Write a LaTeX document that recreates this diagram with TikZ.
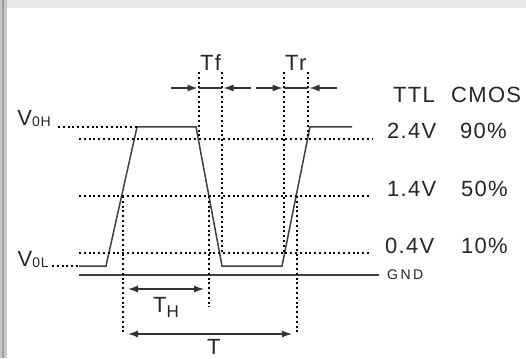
\documentclass[tikz,border=0pt]{standalone}
\usepackage{fontspec}
\setmainfont[LetterSpace=6]{Liberation Sans}
\newfontfamily\gndfont[LetterSpace=18]{Liberation Sans}
\usetikzlibrary{arrows.meta}

\begin{document}
\begin{tikzpicture}[x=1pt,y=-1pt,>={Latex[length=10pt,width=7pt]}]
		\tikzstyle{wave} = [line width=1.5pt, draw=black!75]
		\tikzstyle{guide} = [dash pattern=on 2pt off 2.8pt, line width=1.1pt, draw=black]
		\tikzstyle{dim} = [line width=1.3pt, draw=black!80]
		\tikzstyle{lbl} = [font=\fontsize{22}{24}\selectfont, text=black!85, inner sep=0pt, anchor=base west]
		\tikzstyle{small} = [font=\gndfont\fontsize{14}{15}\selectfont, text=black!85, inner sep=0pt, anchor=west]
		\useasboundingbox (0,0) rectangle (526,358);
		% window edges
		\fill[black!9] (7,0) rectangle (526,8.5);
		\fill[black!22] (0,0) rectangle (6.5,358);
		\draw[black!38, line width=1.3pt] (3,0) -- (3,358);
		% waveform
		\coordinate (w0) at (79,266);
		\coordinate (w1) at (106,266);
		\coordinate (w2) at (137,127);
		\coordinate (w3) at (196,127);
		\coordinate (w4) at (222,266);
		\coordinate (w5) at (282,266);
		\coordinate (w6) at (310,127);
		\coordinate (w7) at (352,127);
		\draw[wave] (w0) -- (w1) -- (w2) -- (w3) -- (w4) -- (w5) -- (w6) -- (w7);
		% levels
		\node[lbl, anchor=base east] (voh) at (51,126) {V\raisebox{-1pt}{\fontsize{14}{15}\selectfont 0H}};
		\node[lbl, anchor=base east] (vol) at (49,266) {V\raisebox{-1pt}{\fontsize{14}{15}\selectfont 0L}};
		\draw[guide] ([xshift=7pt,yshift=-1pt]voh.base east) -- (w2);
		\draw[guide] ([xshift=3pt]vol.base east) -- (w0);
		\node[lbl] (ttl) at (393,103) {TTL};
		\node[lbl] (cmos) at (451,103) {CMOS};
		\node[lbl] (v90) at (387,139) {2.4V};
		\node[lbl, anchor=base east] (p90) at (507,139) {90\%};
		\node[lbl] (v50) at (387,196) {1.4V};
		\node[lbl, anchor=base east] (p50) at (508,196) {50\%};
		\node[lbl] (v10) at (385,253) {0.4V};
		\node[lbl, anchor=base east] (p10) at (508,253) {10\%};
		\node[small] (gnd) at (387,274.5) {GND};
		\coordinate (g90) at (79,139);
		\coordinate (g50) at (79,196);
		\coordinate (g10) at (79,253);
		\coordinate (gg) at (79,275);
		\draw[guide] (g90) -- ([xshift=-14pt]v90.base west);
		\draw[guide] (g50) -- ([xshift=-16pt]v50.base west);
		\draw[guide] (g10) -- ([xshift=-14pt]v10.base west);
		\draw[wave] (gg) -- ([xshift=-8pt]gnd.west |- gg);
		% rise and fall times
		\coordinate (fa) at (199,88);
		\coordinate (fb) at (222,88);
		\coordinate (ra) at (284,88);
		\coordinate (rb) at (308,88);
		\draw[guide] (199,72) -- (199,139);
		\draw[guide] (222,72) -- (222,253);
		\draw[guide] (284,72) -- (284,253);
		\draw[guide] (308,72) -- (308,139);
		\draw[dim,->,shorten >=1.5pt] ([xshift=-28pt]fa) -- (fa);
		\draw[dim] (fa) -- (fb);
		\draw[dim,->,shorten >=1.5pt] ([xshift=29pt]fb) -- (fb);
		\draw[dim,->,shorten >=1.5pt] ([xshift=-28pt]ra) -- (ra);
		\draw[dim] (ra) -- (rb);
		\draw[dim,->,shorten >=1.5pt] ([xshift=29pt]rb) -- (rb);
		\node[lbl] (tf) at (200,71) {Tf};
		\node[lbl] (tr) at (285,71) {Tr};
		% high time and period
		\coordinate (ta) at (123,289);
		\coordinate (tb) at (209,289);
		\coordinate (pa) at (123,334);
		\coordinate (pb) at (297,334);
		\draw[guide] (123,196) -- (123,334);
		\draw[guide] (209,196) -- (209,307);
		\draw[guide] (297,196) -- (297,334);
		\draw[dim,<->,shorten <=5pt,shorten >=5pt] (ta) -- (tb);
		\draw[dim,<->,shorten <=5pt,shorten >=5pt] (pa) -- (pb);
		\node[lbl] (th) at (153,312) {T\raisebox{-5pt}{\fontsize{17}{17}\selectfont H}};
		\node[lbl] (tper) at (207,354) {T};
	\end{tikzpicture}
\end{document}
